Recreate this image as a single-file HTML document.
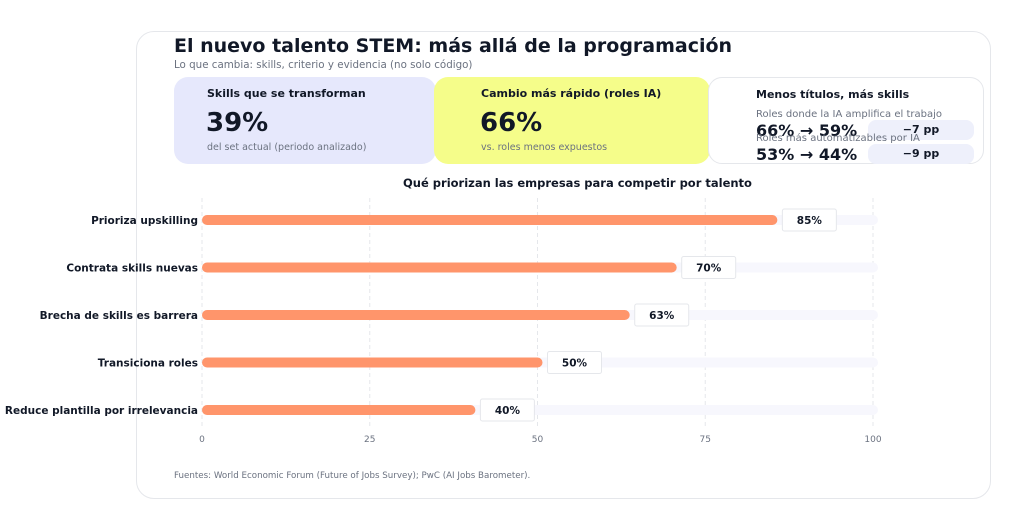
<!DOCTYPE html>
<html><head><meta charset="utf-8"><style>
body{margin:0;width:1024px;height:532px;background:#fff;font-family:"DejaVu Sans","Liberation Sans",sans-serif;overflow:hidden;position:relative}
.a{position:absolute;white-space:nowrap}
.card{position:absolute;left:136px;top:31px;width:855px;height:468px;border:1px solid #e5e7eb;border-radius:18px;box-sizing:border-box}
.kpi{position:absolute;top:77px;height:87px;border-radius:14px;box-sizing:border-box}
.kt{font-size:11px;font-weight:bold;color:#111827}
.kv{font-size:26px;font-weight:bold;color:#111827}
.ks{font-size:9.5px;color:#6b7280}
.pill{position:absolute;background:#eef0fb;border-radius:8px;width:106px;height:20px;font-size:11px;font-weight:bold;color:#111827;text-align:center;line-height:20px}
</style></head><body>
<div class="card"></div>
<div class="a" style="left:174px;top:35px;font-size:19px;font-weight:bold;color:#111827">El nuevo talento STEM: más allá de la programación</div>
<div class="a" style="left:174px;top:59px;font-size:10.3px;color:#6b7280">Lo que cambia: skills, criterio y evidencia (no solo código)</div>

<div class="kpi" style="left:174px;width:262px;background:#e6e8fc">
<div class="a kt" style="left:33px;top:10px">Skills que se transforman</div>
<div class="a kv" style="left:32px;top:31px">39%</div>
<div class="a ks" style="left:33px;top:65px">del set actual (periodo analizado)</div></div>
<div class="kpi" style="left:434px;width:276px;background:#f5fd8a">
<div class="a kt" style="left:47px;top:10px">Cambio más rápido (roles IA)</div>
<div class="a kv" style="left:46px;top:31px">66%</div>
<div class="a ks" style="left:47px;top:65px">vs. roles menos expuestos</div></div>
<div class="kpi" style="left:708px;width:276px;background:#fff;border:1px solid #e5e7eb">
<div class="a kt" style="left:47px;top:10px">Menos títulos, más skills</div>
<div class="a ks" style="left:47px;top:31px;font-size:10px">Roles donde la IA amplifica el trabajo</div>
<div class="pill" style="left:159px;top:42px">−7 pp</div>
<div class="a" style="left:47px;top:43px;font-size:16px;font-weight:bold;color:#111827">66% → 59%</div>
<div class="a ks" style="left:47px;top:55px;font-size:10px">Roles más automatizables por IA</div>
<div class="pill" style="left:159px;top:66px">−9 pp</div>
<div class="a" style="left:47px;top:67px;font-size:16px;font-weight:bold;color:#111827">53% → 44%</div></div>

<div class="a" style="left:0;width:1155px;text-align:center;top:176px;font-size:11.5px;font-weight:bold;color:#111827">Qué priorizan las empresas para competir por talento</div>
<svg id="ch" width="1024" height="532" style="position:absolute;left:0;top:0"></svg>
<div class="a" style="left:174px;top:471px;font-size:8.7px;color:#6b7280">Fuentes: World Economic Forum (Future of Jobs Survey); PwC (AI Jobs Barometer).</div>
<script>
const categories=["Prioriza upskilling","Contrata skills nuevas","Brecha de skills es barrera","Transiciona roles","Reduce plantilla por irrelevancia"];
const values=[85,70,63,50,40];
const ticks=[0,25,50,75,100];
const svg=document.getElementById('ch');const NS='http://www.w3.org/2000/svg';
const x=v=>202+v*6.71;const y=i=>220+i*47.5;
function mk(t,a){const e=document.createElementNS(NS,t);for(const k in a)e.setAttribute(k,a[k]);svg.appendChild(e);return e;}
ticks.forEach(t=>{
 const l=mk('line',{x1:x(t),x2:x(t),y1:198,y2:428,stroke:'#e5e7eb','stroke-dasharray':'4,3'});
 
 
 const tx=mk('text',{x:x(t),y:442,'text-anchor':'middle','font-size':9,fill:'#6b7280','font-family':'DejaVu Sans,sans-serif'});tx.textContent=t;
 
 
});
categories.forEach((c,i)=>{
 const yy=y(i);
 const tr=mk('rect',{x:x(0),y:yy-5,width:x(100)+5-x(0),height:10,rx:5,fill:'#f7f7fd'});
 
 
 const b=mk('rect',{x:x(0),y:yy-5,width:x(values[i])+5-x(0),height:10,rx:5,fill:'#ff956b'});
 
 
 const lb=mk('text',{x:198,y:yy+4,'text-anchor':'end','font-size':10.5,'font-weight':'bold',fill:'#111827','font-family':'DejaVu Sans,sans-serif'});lb.textContent=c;
 
 
 const bx=mk('rect',{x:x(values[i])+10,y:yy-11,width:54,height:22,rx:2,fill:'#fff',stroke:'#e5e7eb'});
 
 
 const vt=mk('text',{x:x(values[i])+37,y:yy+4,'text-anchor':'middle','font-size':10.5,'font-weight':'bold',fill:'#111827','font-family':'DejaVu Sans,sans-serif'});vt.textContent=values[i]+'%';
 
 
});
</script>
</body></html>
